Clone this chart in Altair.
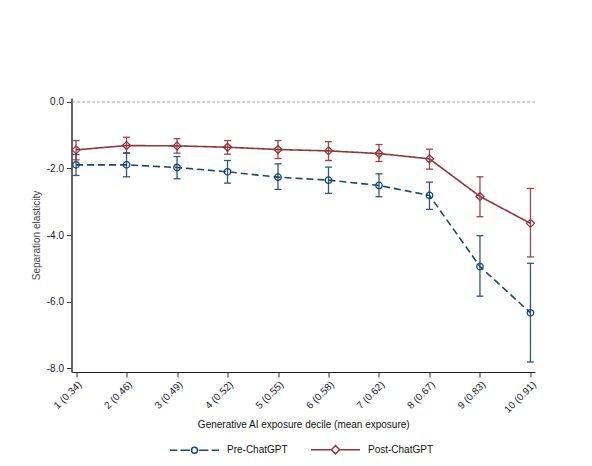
import altair as alt
import pandas as pd

deciles = ["1 (0.34)", "2 (0.46)", "3 (0.49)", "4 (0.52)", "5 (0.55)",
           "6 (0.58)", "7 (0.62)", "8 (0.67)", "9 (0.83)", "10 (0.91)"]
series_names = ["Pre-ChatGPT", "Post-ChatGPT"]

pre = [-1.89, -1.89, -1.97, -2.10, -2.26, -2.35, -2.51, -2.81, -4.95, -6.34]
pre_lo = [-2.21, -2.25, -2.31, -2.44, -2.63, -2.75, -2.85, -3.23, -5.84, -7.82]
pre_hi = [-1.58, -1.53, -1.64, -1.76, -1.86, -1.96, -2.16, -2.41, -4.02, -4.85]

post = [-1.44, -1.31, -1.32, -1.36, -1.43, -1.47, -1.55, -1.71, -2.84, -3.65]
post_lo = [-1.74, -1.54, -1.54, -1.57, -1.70, -1.76, -1.79, -2.02, -3.45, -4.66]
post_hi = [-1.16, -1.06, -1.10, -1.16, -1.16, -1.19, -1.28, -1.42, -2.25, -2.60]

y_ticks = [-8, -6, -4, -2, 0]

rows = []
for s, vals, lo, hi in [(series_names[0], pre, pre_lo, pre_hi),
                        (series_names[1], post, post_lo, post_hi)]:
    for d, v, l, h in zip(deciles, vals, lo, hi):
        rows.append({"decile": d, "series": s, "value": v, "lo": l, "hi": h})
df = pd.DataFrame(rows)

FONT = "Liberation Sans"
colors = ["#1a476f", "#90353b"]
# marks use reversed domain order so their (hidden) legends never merge with the shown one
mark_color_scale = alt.Scale(domain=series_names[::-1], range=colors[::-1])

pre_path = ("M-1,0H-0.7M-0.57,0H-0.18M0.18,0H0.57M0.7,0H1"
            "M0.12,0A0.12,0.12 0 1,1 -0.12,0A0.12,0.12 0 1,1 0.12,0Z")
post_path = "M-1,0H-0.17M0.17,0H1M0,-0.17L0.17,0L0,0.17L-0.17,0Z"

x_enc = alt.X("decile:O", sort=deciles,
              scale=alt.Scale(type="point", padding=0.09),
              axis=alt.Axis(title="Generative AI exposure decile (mean exposure)",
                            labelAngle=315, labelFontSize=10, labelFont=FONT,
                            labelColor="#1a1a2a", titleFont=FONT, titleFontSize=10,
                            titleFontWeight="normal", titleColor="#111",
                            titleY=52, titleBaseline="middle",
                            tickSize=5, tickColor="#333", domainColor="#222",
                            domainWidth=1.2, labelPadding=2, grid=False))
y_scale = alt.Scale(domain=[-8.12, 0.12], nice=False, zero=False)
y_enc = alt.Y("value:Q", scale=y_scale,
              axis=alt.Axis(title="Separation elasticity", values=y_ticks,
                            labelExpr="datum.value == 0 ? '0.0' : datum.value + '.0'",
                            labelFontSize=10, labelFont=FONT, labelColor="#1a1a2a",
                            titleFont=FONT, titleFontSize=10, titleFontWeight="normal",
                            titleColor="#444", titleX=-35.5, titleBaseline="middle",
                            tickSize=5, tickColor="#333", domainColor="#555",
                            domainWidth=1.8, labelPadding=3, grid=False))

base = alt.Chart(df)

zero_rule = alt.Chart(pd.DataFrame({"z": [0]})).mark_rule(
    color="#9a9a9a", strokeDash=[3, 2], strokeWidth=0.9
).encode(y=alt.Y("z:Q", scale=y_scale))

err = base.mark_rule(strokeWidth=1.3, opacity=0.9).encode(
    x=x_enc, y=alt.Y("lo:Q", scale=y_scale), y2="hi:Q",
    color=alt.Color("series:N", scale=mark_color_scale, legend=None))
cap_lo = base.mark_tick(orient="horizontal", size=7, thickness=1.3, opacity=0.9).encode(
    x=x_enc, y=alt.Y("lo:Q", scale=y_scale),
    color=alt.Color("series:N", scale=mark_color_scale, legend=None))
cap_hi = base.mark_tick(orient="horizontal", size=7, thickness=1.3, opacity=0.9).encode(
    x=x_enc, y=alt.Y("hi:Q", scale=y_scale),
    color=alt.Color("series:N", scale=mark_color_scale, legend=None))

lines = base.mark_line(strokeWidth=1.6).encode(
    x=x_enc, y=y_enc,
    color=alt.Color("series:N", scale=mark_color_scale, legend=None),
    strokeDash=alt.StrokeDash("series:N",
                              scale=alt.Scale(domain=series_names[::-1],
                                              range=[[1, 0], [7, 4]]),
                              legend=None),
    detail="series:N")

pts_pre = base.transform_filter(alt.datum.series == series_names[0]).mark_point(
    shape="circle", size=42, filled=False, opacity=1, strokeWidth=1.3, color=colors[0]
).encode(x=x_enc, y=y_enc)
pts_post = base.transform_filter(alt.datum.series == series_names[1]).mark_point(
    shape="diamond", size=64, filled=False, opacity=1, strokeWidth=1.3, color=colors[1]
).encode(x=x_enc, y=y_enc)

leg = alt.Legend(title=None, orient="none", legendX=97.5, legendY=326,
                 direction="horizontal", symbolSize=2401, symbolStrokeWidth=1.5,
                 labelFont=FONT, labelFontSize=10, labelColor="#111",
                 labelOffset=7, columnPadding=20, padding=0)
legend_layer = base.transform_filter("false").mark_point(
    filled=False, opacity=1, strokeWidth=1.5
).encode(
    stroke=alt.Stroke("series:N", scale=alt.Scale(domain=series_names, range=colors),
                      legend=leg),
    shape=alt.Shape("series:N", scale=alt.Scale(domain=series_names,
                                                range=[pre_path, post_path]),
                    legend=leg))

chart = alt.layer(zero_rule, err, cap_lo, cap_hi, lines, pts_pre, pts_post,
                  legend_layer).properties(
    width=463.5, height=274,
    autosize=alt.AutoSizeParams(type="none"),
    padding={"left": 63.5, "top": 90, "right": 49, "bottom": 86},
    background="white",
).configure_view(stroke=None)

chart.save("out.html", embed_options={"renderer": "svg", "actions": False})
